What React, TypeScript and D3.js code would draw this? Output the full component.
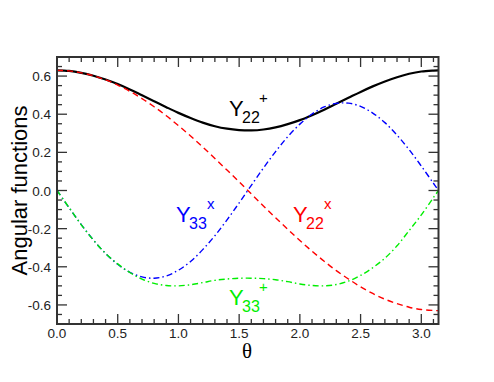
import React from 'react';
import * as d3 from 'd3';

// theta samples (rad) and the four angular functions
const theta = [0, 0.1, 0.2, 0.3, 0.4, 0.5, 0.6, 0.7, 0.8, 0.9, 1.0, 1.1, 1.2, 1.3, 1.4, 1.5, 1.6,
  1.7, 1.8, 1.9, 2.0, 2.1, 2.2, 2.3, 2.4, 2.5, 2.6, 2.7, 2.8, 2.9, 3.0, 3.1, 3.1416];

const y22plus = [0.63, 0.627, 0.617, 0.602, 0.582, 0.558, 0.53, 0.499, 0.468, 0.437, 0.407, 0.38, 0.356,
  0.337, 0.324, 0.317, 0.315, 0.32, 0.331, 0.348, 0.369, 0.395, 0.424, 0.455, 0.486, 0.517, 0.546, 0.572,
  0.594, 0.612, 0.624, 0.629, 0.63];

const y22x = [0.63, 0.627, 0.617, 0.602, 0.58, 0.553, 0.52, 0.482, 0.439, 0.392, 0.34, 0.286, 0.228,
  0.168, 0.107, 0.045, -0.018, -0.081, -0.143, -0.203, -0.262, -0.318, -0.371, -0.42, -0.464, -0.505,
  -0.54, -0.57, -0.593, -0.612, -0.624, -0.629, -0.63];

const y33x = [0, -0.091, -0.179, -0.26, -0.33, -0.387, -0.429, -0.453, -0.46, -0.448, -0.418, -0.372,
  -0.31, -0.237, -0.154, -0.065, 0.027, 0.118, 0.204, 0.282, 0.348, 0.401, 0.438, 0.457, 0.458, 0.441,
  0.406, 0.356, 0.29, 0.214, 0.128, 0.038, 0];

const y33plus = [0, -0.09, -0.18, -0.26, -0.33, -0.385, -0.43, -0.465, -0.487, -0.498, -0.5, -0.494,
  -0.483, -0.471, -0.464, -0.46, -0.46, -0.462, -0.468, -0.478, -0.49, -0.498, -0.5, -0.493, -0.475,
  -0.445, -0.405, -0.355, -0.29, -0.21, -0.128, -0.037, 0];

const xTicks = [0, 0.5, 1.0, 1.5, 2.0, 2.5, 3.0];
const yTicks = [-0.6, -0.4, -0.2, 0.0, 0.2, 0.4, 0.6];

const W = 494;
const H = 382;
const left = 57;
const right = 438.5;
const top = 57;
const bottom = 324;

const App = () => {
  const x = d3.scaleLinear().domain([0, Math.PI]).range([left, right]);
  const y = d3.scaleLinear().domain([-0.7, 0.7]).range([bottom, top]);

  const line = (vals: number[]) =>
    d3.line<number>()
      .x((d, i) => x(theta[i]))
      .y(d => y(d))
      .curve(d3.curveCatmullRom)(vals) as string;

  const xMinor = d3.range(0, 3.15, 0.1);
  const yMinor = d3.range(-0.7, 0.7001, 0.05);
  const axisColor = '#333';
  const font = '"Liberation Sans", Arial, sans-serif';

  // Y with subscript and superscript, as in the reference labels
  const label = (lx: number, ly: number, sub: string, sup: string, color: string, supX: number) => (
    <g fill={color}>
      <text x={lx} y={ly} fontSize={22}>Y</text>
      <text x={lx + 13} y={ly + 7} fontSize={16}>{sub}</text>
      <text x={lx + supX} y={ly - 13} fontSize={15}>{sup}</text>
    </g>
  );

  return (
    <svg width={W} height={H} style={{ position: 'absolute', left: 0, top: 0 }}
      fontFamily={font}>
      <rect width={W} height={H} fill="white" />
      <defs>
        <clipPath id="plot">
          <rect x={left} y={top} width={right - left} height={bottom - top} />
        </clipPath>
      </defs>

      {/* ticks on all four sides, pointing in */}
      <g stroke={axisColor} strokeWidth={1.3}>
        {xMinor.map((t, i) => {
          const major = i % 5 === 0;
          const len = major ? 10 : 5;
          return (
            <g key={'xt' + i}>
              <line x1={x(t)} x2={x(t)} y1={bottom} y2={bottom - len} />
              <line x1={x(t)} x2={x(t)} y1={top} y2={top + len} />
            </g>
          );
        })}
        {yMinor.map((v, i) => {
          const major = Math.abs(Math.round(v * 5) - v * 5) < 1e-6 && Math.abs(v) < 0.69;
          const len = major ? 10 : 5;
          return (
            <g key={'yt' + i}>
              <line x1={left} x2={left + len} y1={y(v)} y2={y(v)} />
              <line x1={right} x2={right - len} y1={y(v)} y2={y(v)} />
            </g>
          );
        })}
      </g>

      <g clipPath="url(#plot)" fill="none">
        <path d={line(y22plus)} stroke="#000" strokeWidth={2.2} />
        <path d={line(y22x)} stroke="#ff0000" strokeWidth={1.4} strokeDasharray="6,4" />
        <path d={line(y33x)} stroke="#0000ff" strokeWidth={1.4} strokeDasharray="6,3,1.5,3" />
        <path d={line(y33plus)} stroke="#00ee00" strokeWidth={1.4} strokeDasharray="6,3,1.5,3" />
      </g>

      <rect x={left} y={top} width={right - left} height={bottom - top}
        fill="none" stroke={axisColor} strokeWidth={2} />

      <g fontSize={13.5} fill="#222">
        {xTicks.map(t => (
          <text key={'xl' + t} x={x(t)} y={bottom + 14} textAnchor="middle">{t.toFixed(1)}</text>
        ))}
        {yTicks.map(v => (
          <text key={'yl' + v} x={left - 6} y={y(v) + 5} textAnchor="end">{v.toFixed(1)}</text>
        ))}
      </g>

      <text x={247} y={358} textAnchor="middle" fontSize={21}
        fontFamily='"Liberation Serif", "DejaVu Serif", serif'>θ</text>
      <text transform={`translate(27,${(top + bottom) / 2}) rotate(-90)`} textAnchor="middle"
        fontSize={22}>Angular functions</text>

      {/* curve labels */}
      {label(229, 116, '22', '+', '#000', 30)}
      {label(176, 222, '33', 'x', '#0000ff', 31)}
      {label(293, 222, '22', 'x', '#ff0000', 31)}
      {label(229, 305, '33', '+', '#00ee00', 30)}
    </svg>
  );
};

export default App;
